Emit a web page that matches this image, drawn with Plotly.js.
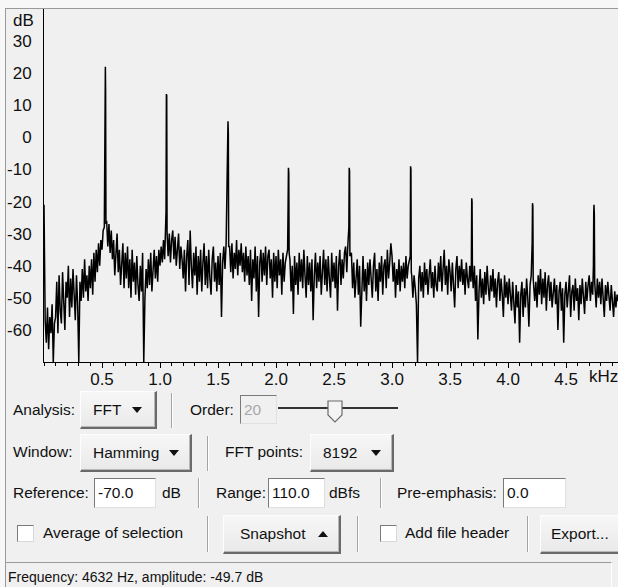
<!DOCTYPE html>
<html><head><meta charset="utf-8">
<script src="https://cdn.plot.ly/plotly-3.0.1.min.js"></script>
<style>
html,body{margin:0;padding:0;}
body{width:618px;height:587px;overflow:hidden;background:#f7f7f7;position:relative;font-family:"Liberation Sans",Arial,sans-serif;}
#panel{position:absolute;left:5px;top:8px;width:613px;height:579px;background:#f0f0f0;border-left:1px solid #9a9a9a;border-top:1px solid #9a9a9a;}
#chart{position:absolute;left:0;top:0;width:618px;height:400px;}
.t{position:absolute;font-size:15.5px;color:#111;line-height:18px;white-space:nowrap;}
.btn{position:absolute;box-sizing:border-box;background:linear-gradient(#f7f7f7,#e9e9e9);border-top:1px solid #fdfdfd;border-left:1px solid #fdfdfd;border-right:2px solid #6a6a6a;border-bottom:2px solid #6a6a6a;box-shadow:inset -1px -1px 0 #b8b8b8;font-size:15.5px;color:#111;}
.btn span{position:absolute;top:50%;transform:translateY(-50%);white-space:nowrap;}
.tri{position:absolute;width:0;height:0;border-left:5px solid transparent;border-right:5px solid transparent;border-top:6px solid #111;}
.triu{position:absolute;width:0;height:0;border-left:5px solid transparent;border-right:5px solid transparent;border-bottom:6px solid #111;}
.sep{position:absolute;width:1px;background:#a4a4a4;border-right:1px solid #fff;}
.inp{position:absolute;box-sizing:border-box;background:#fff;border-top:1px solid #7a7a7a;border-left:1px solid #7a7a7a;border-right:1px solid #e0e0e0;border-bottom:1px solid #e0e0e0;font-size:15.5px;color:#111;padding-left:3px;white-space:nowrap;}
.chk{position:absolute;box-sizing:border-box;width:17px;height:17px;background:#fff;border-top:1px solid #7a7a7a;border-left:1px solid #7a7a7a;border-right:1px solid #d8d8d8;border-bottom:1px solid #d8d8d8;}
</style>
</head>
<body>
<div id="panel"></div>
<div id="chart"></div>

<!-- Row 1 -->
<div class="t" style="left:13px;top:401px">Analysis:</div>
<div class="btn" style="left:80px;top:391px;width:77px;height:38px"><span style="left:12px">FFT</span><i class="tri" style="left:51px;top:15px"></i></div>
<div class="sep" style="left:171px;top:393px;height:35px"></div>
<div class="t" style="left:190px;top:401px">Order:</div>
<div class="inp" style="left:240px;top:395px;width:37px;height:29px;background:#f0f0f0;color:#a8a8a8;line-height:27px">20</div>
<svg style="position:absolute;left:278px;top:396px" width="125" height="30">
  <line x1="0" y1="12" x2="120" y2="12" stroke="#333" stroke-width="2"/>
  <polygon points="50,5 64,5 64,19 57,26 50,19" fill="#f4f4f4" stroke="#6a6a6a" stroke-width="1.2"/>
</svg>

<!-- Row 2 -->
<div class="t" style="left:13px;top:443px">Window:</div>
<div class="btn" style="left:80px;top:434px;width:112px;height:38px"><span style="left:12px">Hamming</span><i class="tri" style="left:88px;top:15px"></i></div>
<div class="sep" style="left:207px;top:436px;height:35px"></div>
<div class="t" style="left:225px;top:443px">FFT points:</div>
<div class="btn" style="left:310px;top:434px;width:84px;height:38px"><span style="left:12px">8192</span><i class="tri" style="left:60px;top:15px"></i></div>

<!-- Row 3 -->
<div class="t" style="left:13px;top:484px">Reference:</div>
<div class="inp" style="left:94px;top:478px;width:62px;height:30px;line-height:28px">-70.0</div>
<div class="t" style="left:162px;top:484px">dB</div>
<div class="sep" style="left:198px;top:478px;height:30px"></div>
<div class="t" style="left:216px;top:484px">Range:</div>
<div class="inp" style="left:268px;top:478px;width:57px;height:30px;line-height:28px">110.0</div>
<div class="t" style="left:329px;top:484px">dBfs</div>
<div class="sep" style="left:380px;top:478px;height:30px"></div>
<div class="t" style="left:397px;top:484px">Pre-emphasis:</div>
<div class="inp" style="left:503px;top:478px;width:63px;height:30px;line-height:28px">0.0</div>

<!-- Row 4 -->
<div class="chk" style="left:17px;top:525px"></div>
<div class="t" style="left:43px;top:524px">Average of selection</div>
<div class="sep" style="left:207px;top:516px;height:36px"></div>
<div class="btn" style="left:223px;top:515px;width:118px;height:39px"><span style="left:16px">Snapshot</span><i class="triu" style="left:94px;top:15px"></i></div>
<div class="sep" style="left:357px;top:516px;height:36px"></div>
<div class="chk" style="left:380px;top:525px"></div>
<div class="t" style="left:405px;top:524px">Add file header</div>
<div class="sep" style="left:527px;top:516px;height:36px"></div>
<div class="btn" style="left:540px;top:515px;width:90px;height:39px"><span style="left:10px">Export...</span></div>

<!-- Status bar -->
<div style="position:absolute;left:5px;top:562px;width:607px;height:27px;box-sizing:border-box;border-top:1px solid #9a9a9a;border-left:1px solid #9a9a9a;border-right:1px solid #fff;"></div>
<div class="t" style="left:8px;top:568px;font-size:14px">Frequency: 4632 Hz, amplitude: -49.7 dB</div>

<script>
// ---- data ----
const freqStartKHz = 0.0;
const freqStepKHz = 0.01;
const noiseDb = [
 -21,-57,-64,-53,-66,-56,-61,-52,-70,-58,
 -56,-45,-61,-43,-54,-58,-42,-52,-60,-45,
 -50,-40,-56,-44,-53,-41,-49,-57,-43,-52,
 -70,-45,-51,-41,-50,-38,-48,-43,-51,-40,
 -47,-38,-49,-36,-45,-35,-42,-33,-40,-32,
 -35,-29,-28,-33,-26,-34,-27,-36,-29,-38,
 -32,-43,-34,-30,-42,-35,-46,-37,-33,-47,
 -36,-44,-34,-47,-38,-50,-35,-45,-39,-49,
 -37,-46,-51,-40,-48,-36,-70,-50,-41,-47,
 -38,-46,-36,-48,-39,-35,-44,-37,-45,-35,
 -40,-34,-39,-32,-38,-33,-31,-37,-30,-39,
 -32,-29,-38,-31,-40,-33,-30,-41,-34,-38,
 -44,-35,-48,-37,-32,-46,-29,-40,-47,-36,
 -43,-34,-49,-37,-45,-35,-48,-39,-33,-46,
 -37,-47,-35,-44,-49,-38,-34,-45,-39,-48,
 -37,-46,-36,-56,-39,-34,-41,-33,-38,-35,
 -34,-42,-33,-44,-36,-41,-32,-43,-35,-40,
 -33,-42,-36,-45,-34,-43,-37,-46,-35,-51,
 -38,-44,-34,-48,-37,-56,-39,-35,-45,-36,
 -43,-34,-46,-37,-35,-44,-38,-50,-36,-45,
 -37,-47,-35,-43,-38,-49,-36,-45,-39,-37,
 -35,-44,-38,-48,-40,-55,-37,-46,-39,-49,
 -36,-45,-38,-47,-35,-43,-50,-37,-46,-39,
 -48,-38,-57,-43,-36,-47,-39,-45,-37,-49,
 -40,-35,-46,-38,-48,-37,-44,-50,-36,-45,
 -39,-47,-37,-54,-40,-35,-46,-38,-44,-36,
 -34,-42,-33,-40,-44,-36,-47,-39,-50,-42,
 -38,-49,-40,-59,-45,-37,-48,-41,-51,-39,
 -46,-38,-44,-50,-40,-36,-48,-41,-51,-39,
 -45,-37,-49,-40,-38,-47,-35,-44,-39,-33,
 -37,-45,-39,-50,-41,-46,-38,-48,-40,-45,
 -39,-47,-37,-44,-40,-38,-36,-43,-50,-43,
 -47,-52,-70,-44,-40,-48,-42,-50,-39,-46,
 -41,-49,-43,-38,-47,-42,-50,-40,-46,-48,
 -39,-45,-37,-48,-41,-35,-46,-40,-49,-38,
 -42,-48,-39,-46,-53,-41,-37,-47,-40,-45,
 -38,-46,-41,-49,-39,-44,-47,-40,-45,-41,
 -47,-40,-51,-43,-63,-48,-41,-50,-44,-52,
 -42,-49,-40,-47,-51,-43,-48,-41,-50,-44,
 -53,-45,-42,-51,-44,-49,-56,-43,-50,-45,
 -52,-44,-49,-54,-45,-51,-58,-46,-53,-48,
 -64,-49,-45,-56,-47,-53,-44,-50,-59,-46,
 -43,-48,-42,-51,-45,-53,-43,-49,-41,-52,
 -44,-50,-42,-54,-46,-43,-51,-45,-53,-47,
 -44,-52,-46,-60,-48,-45,-54,-47,-64,-49,
 -45,-53,-47,-43,-56,-48,-46,-54,-44,-51,
 -47,-57,-46,-52,-44,-50,-55,-45,-51,-46,
 -43,-51,-45,-49,-42,-48,-53,-44,-50,-45,
 -52,-44,-49,-56,-46,-51,-45,-50,-54,-46,
 -50,-56,-48,-53,-49,-51
];
// harmonic peaks (frequency in kHz, level in dB)
const peakKHz = [
 0.524,0.527,0.529,0.531,0.534,
 1.052,1.055,1.058,1.061,
 1.583,1.586,1.589,1.592,
 2.104,2.107,2.110,2.113,
 2.628,2.631,2.634,2.637,
 3.157,3.160,3.163,3.166,
 3.684,3.687,3.690,3.693,
 4.208,4.211,4.214,4.217,
 4.736,4.739,4.741,4.744,4.747
];
const peakDb = [
 12,16,22,15,-27,
 -23,13.5,13,-30,
 1,5,1.5,-34,
 -22,-9.5,-11,-36,
 -28,-9.5,-10.5,-37,
 -37,-9,-10,-42,
 -40,-19,-20,-42,
 -33,-20.5,-21.5,-44,
 -40,-23.5,-21,-24,-45
];
const yTickVals = [-60,-50,-40,-30,-20,-10,0,10,20,30];
const yTickText = ['-60','-50','-40','-30','-20','-10','0','10','20','30'];
const xTickVals = [0.5,1.0,1.5,2.0,2.5,3.0,3.5,4.0,4.5];
const xTickText = ['0.5','1.0','1.5','2.0','2.5','3.0','3.5','4.0','4.5'];

// ---- build merged series ----
let pts = noiseDb.map((v,i)=>({x: freqStartKHz + i*freqStepKHz, y: v}));
pts = pts.filter(p => !peakKHz.some(f => Math.abs(p.x - f) < 0.0035));
peakKHz.forEach((f,i)=>pts.push({x:f, y:peakDb[i]}));
pts.sort((a,b)=>a.x-b.x);

const font = {family:'"Liberation Sans", Arial, sans-serif', size:17, color:'#111'};

Plotly.newPlot('chart', [{
  type:'scatter', mode:'lines',
  x: pts.map(p=>p.x), y: pts.map(p=>p.y),
  line:{color:'#000', width:1.5},
  hoverinfo:'skip'
}], {
  width:618, height:400,
  margin:{l:44, r:0, t:9, b:38},
  paper_bgcolor:'rgba(0,0,0,0)', plot_bgcolor:'rgba(0,0,0,0)',
  showlegend:false,
  xaxis:{
    range:[0,4.948], tickmode:'array', tickvals:xTickVals, ticktext:xTickText,
    ticks:'outside', ticklen:5, tickwidth:1, tickcolor:'#000',
    showline:true, linecolor:'#000', linewidth:1,
    showgrid:false, zeroline:false, tickfont:font, fixedrange:true, ticklabelstandoff:-3,
    minor:{tickmode:'linear', tick0:0, dtick:0.1, ticks:'outside', ticklen:3, tickcolor:'#000', showgrid:false}
  },
  yaxis:{
    range:[-70,40], tickmode:'array', tickvals:yTickVals, ticktext:yTickText,
    ticks:'', showline:true, linecolor:'#000', linewidth:1,
    showgrid:false, zeroline:false, tickfont:font, ticklabelstandoff:8, fixedrange:true
  },
  annotations:[
    {text:'dB', xref:'paper', x:0, xanchor:'right', xshift:-8, yref:'y', y:36.5, yanchor:'middle', showarrow:false, font:font},
    {text:'kHz', xref:'x', x:4.82, xanchor:'center', yref:'paper', y:0, yanchor:'top', yshift:-3, showarrow:false, font:font}
  ]
}, {staticPlot:true, displayModeBar:false});
</script>
</body></html>
